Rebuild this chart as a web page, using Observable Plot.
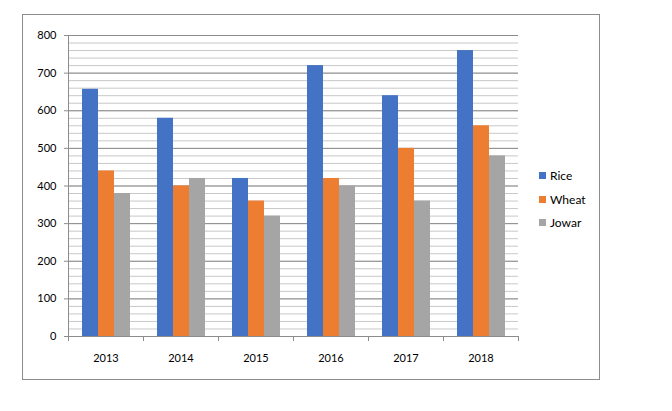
<!DOCTYPE html>
<html>
<head>
<meta charset="utf-8">
<script src="https://cdn.jsdelivr.net/npm/d3@7"></script>
<script src="https://cdn.jsdelivr.net/npm/@observablehq/plot@0.6"></script>
<style>
  html, body { margin: 0; padding: 0; background: #fff; }
  #wrap { position: relative; width: 672px; height: 411px; overflow: hidden; font-family: Lato, "Open Sans", sans-serif; }
  #chart { position: absolute; left: 0; top: 0; }
  #border { position: absolute; left: 22px; top: 14px; width: 576px; height: 364px; border: 1px solid #8c8c8c; pointer-events: none; }
  #legend { position: absolute; left: 539px; top: 164px; font-size: 12px; color: #000; }
  .item { display: flex; align-items: center; height: 23.5px; }
  .sw { width: 7px; height: 7px; margin-right: 4px; }
</style>
</head>
<body>
<div id="wrap">
  <div id="chart"></div>
  <div id="border"></div>
  <div id="legend"></div>
</div>
<script>
const years = ["2013", "2014", "2015", "2016", "2017", "2018"];
const series = ["Rice", "Wheat", "Jowar"];
const rice  = [657, 580, 420, 720, 640, 760];
const wheat = [440, 400, 360, 420, 500, 560];
const jowar = [380, 420, 320, 400, 360, 480];
const colors = ["#4472C4", "#ED7D31", "#A5A5A5"];
const yTicks = [0, 100, 200, 300, 400, 500, 600, 700, 800];
const yMinorTicks = d3.range(0, 801, 20);

const valuesBySeries = {Rice: rice, Wheat: wheat, Jowar: jowar};
const data = years.flatMap((year, i) =>
  series.map(s => ({year, series: s, value: valuesBySeries[s][i]}))
);

const gridMinor = "#c8c8c8";
const gridMajor = "#8c8c8c";

function boundaryTicks(index, scales, values, dims) {
  const g = d3.create("svg:g").attr("stroke", gridMajor);
  const y0 = dims.height - dims.marginBottom;
  const xl = dims.marginLeft, xr = dims.width - dims.marginRight;
  for (const x of [xl, xr]) {
    g.append("line").attr("x1", x + 0.5).attr("x2", x + 0.5).attr("y1", y0).attr("y2", y0 + 5);
  }
  return g.node();
}

const chart = Plot.plot({
  width: 672,
  height: 411,
  marginLeft: 68,
  marginRight: 154,
  marginTop: 35,
  marginBottom: 75,
  style: {fontFamily: "Lato, 'Open Sans', sans-serif", fontSize: "11px", color: "#000", background: "transparent"},
  fx: {domain: years, padding: 0, label: null},
  x: {domain: series, paddingInner: 0, paddingOuter: 0.75, axis: null},
  y: {domain: [0, 800], label: null},
  color: {domain: series, range: colors},
  marks: [
    Plot.ruleY(yMinorTicks, {stroke: gridMinor, strokeOpacity: 1}),
    Plot.ruleY(yTicks, {stroke: gridMajor, strokeOpacity: 1}),
    Plot.barY(data, {fx: "year", x: "series", y: "value", fill: "series"}),
    Plot.frame({anchor: "left", facetAnchor: "left", stroke: gridMajor}),
    Plot.axisY({ticks: yTicks, tickSize: 4, tickPadding: 8, label: null, stroke: gridMajor, strokeOpacity: 1, fill: "#000"}),
    Plot.axisFx({anchor: "bottom", tickSize: 0, tickPadding: 18, label: null, fill: "#000"}),
    boundaryTicks
  ]
});
document.getElementById("chart").appendChild(chart);

const legend = document.getElementById("legend");
series.forEach((s, i) => {
  const item = document.createElement("div");
  item.className = "item";
  const sw = document.createElement("span");
  sw.className = "sw";
  sw.style.background = colors[i];
  const t = document.createElement("span");
  t.textContent = s;
  item.appendChild(sw);
  item.appendChild(t);
  legend.appendChild(item);
});
</script>
</body>
</html>
